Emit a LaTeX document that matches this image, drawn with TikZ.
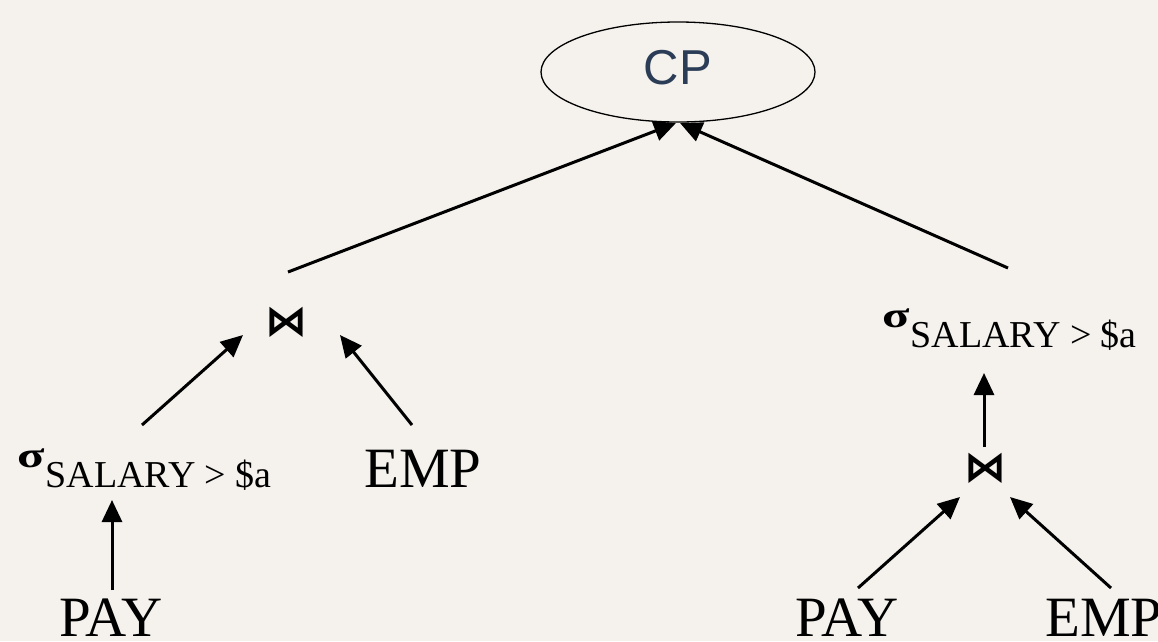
\documentclass[tikz,border=0pt]{standalone}
\usepackage{fontspec}
\usepackage{graphicx}
\setmainfont{Liberation Serif}
\newfontfamily\cpfont{Liberation Sans}
\newfontfamily\opfont{DejaVu Sans}
\usetikzlibrary{arrows.meta,shapes.geometric}
\definecolor{paper}{HTML}{F5F2ED}
\definecolor{cpblue}{HTML}{2B3C56}
\newcommand{\selsalary}{{\fontsize{36}{36}\selectfont\bfseries\scalebox{1.4}[1]{σ}}\kern1pt\raisebox{-20pt}{\fontsize{38}{38}\selectfont SALARY > \$a}}
\begin{document}
\begin{tikzpicture}[x=1pt,y=-1pt,
  arr/.style={line width=3pt,-{Triangle[length=22pt,width=20pt]}},
  rel/.style={inner sep=0pt,anchor=base,font=\fontsize{57}{57}\selectfont},
  sel/.style={inner sep=0pt,anchor=base west},
  op/.style={inner sep=0pt,font=\opfont\bfseries\fontsize{42}{42}\selectfont}]
    %% Page
    \useasboundingbox (0,0) rectangle (1158,641);
    \fill[paper] (0,0) rectangle (1158,641);
    %% Root
    \node[draw,ellipse,line width=1.3pt,minimum width=274pt,minimum height=100pt,inner sep=0pt,text=cpblue,font=\cpfont\fontsize{49}{49}\selectfont,text depth=9pt] (cp) at (678,72) {CP};
    %% Left branch
    \node[op] (join1) at (286,322) {⋈};
    \node[sel] (sel1) at (17,467) {\selsalary};
    \node[rel] (emp1) at (423,487) {EMP};
    \node[rel] (pay1) at (111,636) {PAY};
    %% Right branch
    \node[sel] (sel2) at (882,327) {\selsalary};
    \node[op] (join2) at (985,468) {⋈};
    \node[rel] (pay2) at (847,636) {PAY};
    \node[rel] (emp2) at (1104,636) {EMP};
    %% Arrows
    \draw[arr] ([shift={(2,-50)}]join1.center) -- ([shift={(-2,51)}]cp.center);
    \draw[arr] ([shift={(126,-59)}]sel2.base west) -- ([shift={(2,51)}]cp.center);
    \draw[arr] ([shift={(125,-42)}]sel1.base west) -- ([shift={(-43,13)}]join1.center);
    \draw[arr] ([shift={(-11,-62)}]emp1.base) -- ([shift={(54,13)}]join1.center);
    \draw[arr] ([shift={(1,-46)}]pay1.base) -- ([shift={(95,33)}]sel1.base west);
    \draw[arr] ([shift={(-1,-21)}]join2.center) -- ([shift={(102,46)}]sel2.base west);
    \draw[arr] ([shift={(11,-48)}]pay2.base) -- ([shift={(-25,29)}]join2.center);
    \draw[arr] ([shift={(7,-48)}]emp2.base) -- ([shift={(25,29)}]join2.center);
\end{tikzpicture}
\end{document}
